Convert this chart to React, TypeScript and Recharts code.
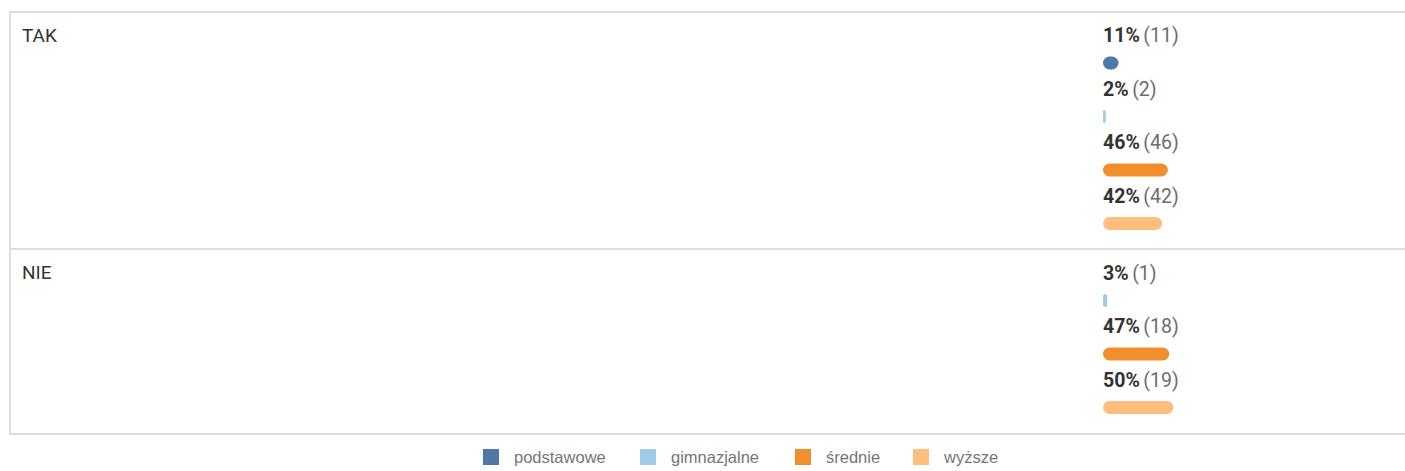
import React from 'react';
import { BarChart, Bar, XAxis, YAxis, Cell, Rectangle } from 'recharts';

const groups = ['TAK', 'NIE'];
const seriesNames = ['podstawowe', 'gimnazjalne', 'średnie', 'wyższe'];
const seriesColors = ['#4e79a7', '#a0cbe8', '#f28e2b', '#ffbe7d'];
const takPercents = [11, 2, 46, 42];
const takCounts = [11, 2, 46, 42];
const niePercents = [0, 3, 47, 50];
const nieCounts = [0, 1, 18, 19];

const groupPercents = [takPercents, niePercents];
const groupCounts = [takCounts, nieCounts];

type Row = { series: string; pct: number; count: number; color: string };

function buildRows(g: number): Row[] {
  const rows: Row[] = [];
  seriesNames.forEach((s, i) => {
    if (groupCounts[g][i] > 0) {
      rows.push({ series: s, pct: groupPercents[g][i], count: groupCounts[g][i], color: seriesColors[i] });
    }
  });
  return rows;
}

const FONT = 'Roboto, "Noto Sans", sans-serif';
const W = 1405;
const PLOT_LEFT = 1103;
const PLOT_W = 141;

const BarWithLabel = (props: any) => {
  const { x, y, width, height, fill, payload } = props;
  const cy = y + height / 2;
  return (
    <g>
      <Rectangle x={x} y={y} width={width} height={height} fill={fill} radius={height / 2} />
      <text x={x} y={cy - 21} fontFamily={FONT} fontSize={19.5}>
        <tspan fontWeight={700} fill="#333333">{payload.pct}%</tspan>
        <tspan dx={3.5} fill="#6d6d6d">({payload.count})</tspan>
      </text>
    </g>
  );
};

const rowLayouts = [
  { top: 13, height: 240, mTop: 23.5, mBottom: 2.5 },
  { top: 251, height: 185, mTop: 23, mBottom: 1.5 },
];
const labelTops = [12, 249];
const legendX = [483, 640, 795, 913];

export default function App() {
  return (
    <div style={{ position: 'absolute', left: 0, top: 0, width: W, height: 471, overflow: 'hidden', background: '#fff' }}>
      <div style={{ position: 'absolute', left: 9, top: 11, width: 1500, height: 424, border: '2px solid #dddddd', boxSizing: 'border-box' }} />
      <div style={{ position: 'absolute', left: 9, top: 248, width: 1500, height: 2, background: '#dddddd' }} />
      {groups.map((g, gi) => (
        <div key={g} style={{ position: 'absolute', left: 22, top: labelTops[gi] + 12, fontFamily: FONT, fontSize: 19, color: '#333333', lineHeight: '24px' }}>{g}</div>
      ))}
      {groups.map((g, gi) => {
        const L = rowLayouts[gi];
        const rows = buildRows(gi);
        return (
          <div key={g + 'c'} style={{ position: 'absolute', left: 0, top: L.top }}>
            <BarChart
              layout="vertical"
              width={W}
              height={L.height}
              data={rows}
              margin={{ top: L.mTop, bottom: L.mBottom, left: PLOT_LEFT, right: W - PLOT_LEFT - PLOT_W }}
              barSize={13}
            >
              <XAxis type="number" domain={[0, 100]} hide />
              <YAxis type="category" dataKey="series" hide />
              <Bar dataKey="pct" isAnimationActive={false} shape={BarWithLabel}>
                {rows.map((r) => (
                  <Cell key={r.series} fill={r.color} />
                ))}
              </Bar>
            </BarChart>
          </div>
        );
      })}
      {seriesNames.map((s, i) => (
        <div key={s} style={{ position: 'absolute', left: legendX[i], top: 449, height: 16, display: 'flex', alignItems: 'center', fontFamily: '"Liberation Sans", Arial, sans-serif', fontSize: 16.5, color: '#757575', whiteSpace: 'nowrap' }}>
          <div style={{ width: 16, height: 16, background: seriesColors[i], marginRight: 15 }} />
          <span>{s}</span>
        </div>
      ))}
    </div>
  );
}
